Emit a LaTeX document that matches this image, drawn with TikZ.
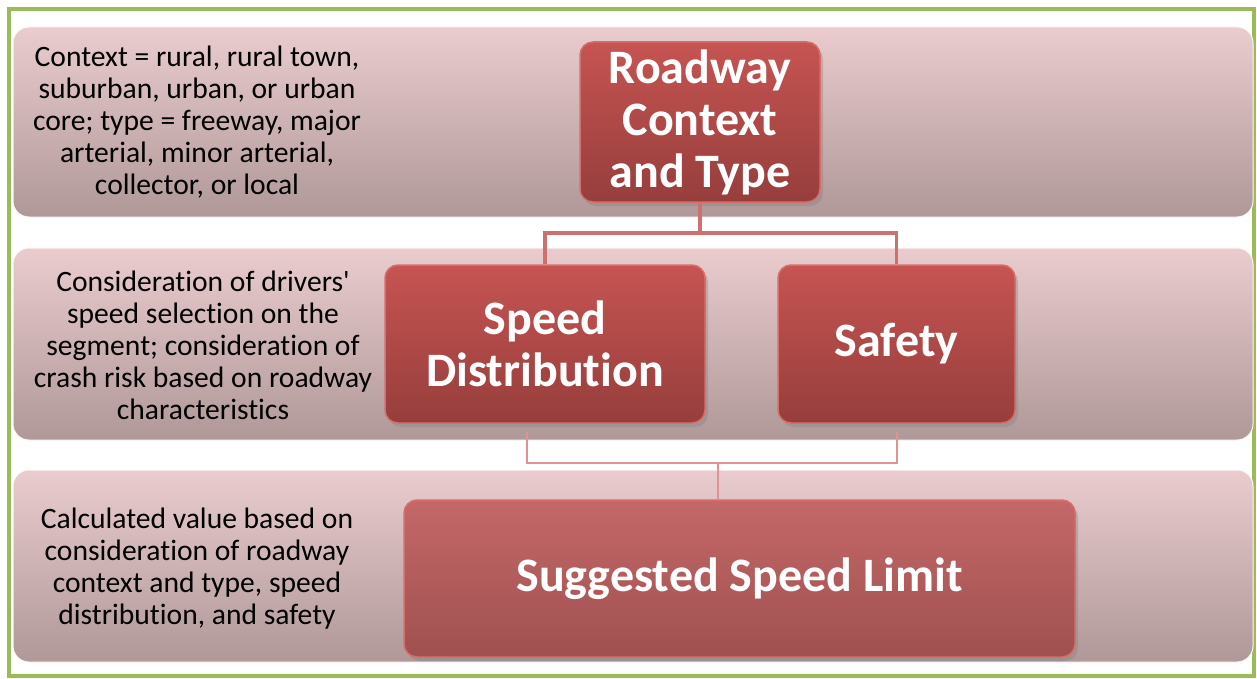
\documentclass[tikz,border=0pt]{standalone}
\usepackage{fontspec}
\setmainfont{Carlito}[Ligatures=NoCommon]
\usetikzlibrary{shadows,calc}
\definecolor{framegreen}{RGB}{155,187,89}
\definecolor{bandtop}{RGB}{234,204,206}
\definecolor{bandbot}{RGB}{176,152,152}
\definecolor{boxtop}{RGB}{198,84,82}
\definecolor{boxbot}{RGB}{150,62,60}
\definecolor{boxedge}{RGB}{214,110,108}
\definecolor{limtop}{RGB}{196,104,104}
\definecolor{limbot}{RGB}{160,80,80}
\definecolor{linkA}{RGB}{206,112,112}
\definecolor{linkB}{RGB}{226,146,146}
\tikzset{
  band/.style={rounded corners=16pt, top color=bandtop, bottom color=bandbot, draw=white!85!bandtop, line width=1pt, minimum width=1240pt, inner sep=0pt},
  darkbox/.style={rounded corners=13pt, top color=boxtop, bottom color=boxbot, draw=boxedge, line width=1.5pt, inner sep=0pt, align=center, text=white, font=\fontsize{48}{52}\selectfont\bfseries, drop shadow={opacity=0.35, shadow xshift=3pt, shadow yshift=-4pt}},
  limbox/.style={darkbox, top color=limtop, bottom color=limbot},
  sidetext/.style={align=center, font=\fontsize{29.6}{32}\selectfont, text=black, inner sep=0pt},
  linkthick/.style={draw=linkA, line width=3.5pt},
  linkthin/.style={draw=linkB, line width=2pt},
}
\begin{document}
\begin{tikzpicture}[x=1pt, y=-1pt]
\useasboundingbox (0,0) rectangle (1257,679);
\fill[white] (0,0) rectangle (1257,679);
\draw[framegreen, line width=4pt] (9,9) rectangle (1254,676);

% bands
\node[band, minimum height=190pt] (band1) at (633,122) {};
\node[band, minimum height=192pt] (band2) at (633,344) {};
\node[band, minimum height=192pt] (band3) at (633,566) {};

% side texts
\node[sidetext] (t1) at (197,122) {Context = rural, rural town,\\suburban, urban, or urban\\core; type = freeway, major\\arterial, minor arterial,\\collector, or local};
\node[sidetext] (t2) at (203,345) {Consideration of drivers\textquotesingle\\speed selection on the\\segment; consideration of\\crash risk based on roadway\\characteristics};
\node[sidetext] (t3) at (197,569) {Calculated value based on\\consideration of roadway\\context and type, speed\\distribution, and safety};

% main boxes
\node[darkbox, minimum width=240pt, minimum height=160pt] (road) at (700,122) {Roadway\\Context\\and Type};
\node[darkbox, minimum width=320pt, minimum height=158pt] (speed) at (545,344) {Speed\\Distribution};
\node[darkbox, minimum width=237pt, minimum height=158pt] (safety) at (896.5,344) {Safety};
\node[limbox, minimum width=671pt, minimum height=157pt] (limit) at (739.5,578.5) {Suggested Speed Limit};

% top connector
\coordinate (tj) at ($(road.south)+(0,30)$);
\draw[linkthick] (road.south) -- (tj) -| (speed.north);
\draw[linkthick] (tj) -| (safety.north);

% bottom connector
\coordinate (sb) at (527,432);
\coordinate (fb) at (897,432);
\coordinate (bj) at (718,463);
\draw[linkthin] (sb) |- (bj) -| (fb);
\draw[linkthin] (bj) -- (bj |- limit.north);
\end{tikzpicture}
\end{document}
